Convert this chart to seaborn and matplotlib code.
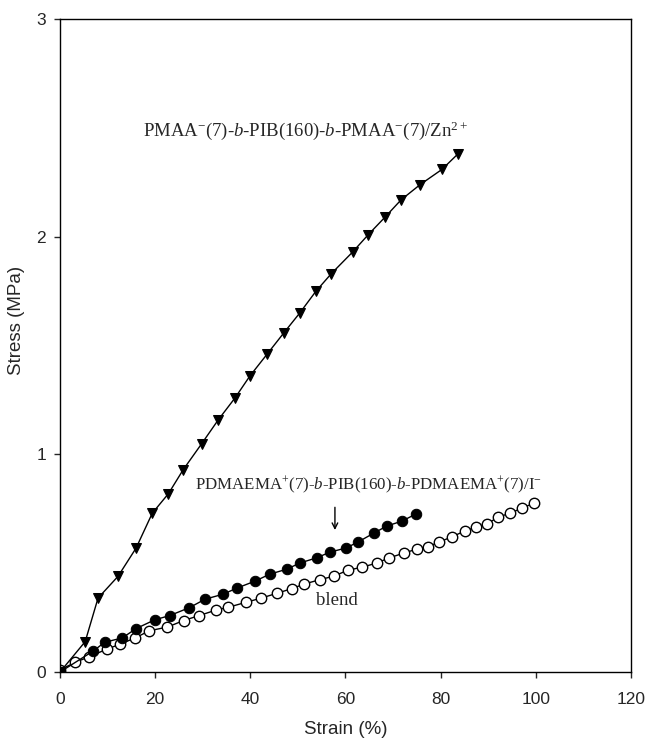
import matplotlib
matplotlib.use("Agg")
import matplotlib.pyplot as plt
import seaborn as sns
import pandas as pd

# Stress-strain data (strain in %, stress in MPa)
zn_strain = [0, 5.3, 8.0, 12.2, 16.0, 19.4, 22.8, 25.9, 29.8, 33.3, 36.8, 39.9,
             43.5, 47.1, 50.4, 53.8, 57.0, 61.5, 64.8, 68.3, 71.7, 75.7, 80.3, 83.6]
zn_stress = [0, 0.14, 0.34, 0.44, 0.57, 0.73, 0.82, 0.93, 1.05, 1.16, 1.26, 1.36,
             1.46, 1.56, 1.65, 1.75, 1.83, 1.93, 2.01, 2.09, 2.17, 2.24, 2.31, 2.38]

iod_strain = [0, 7.0, 9.4, 13.1, 16.0, 19.9, 23.1, 27.2, 30.5, 34.3, 37.2, 41.0,
              44.1, 47.7, 50.4, 54.1, 56.7, 60.1, 62.6, 66.0, 68.7, 71.9, 74.8]
iod_stress = [0, 0.097, 0.137, 0.157, 0.20, 0.24, 0.26, 0.296, 0.335, 0.358, 0.386, 0.418,
              0.45, 0.473, 0.501, 0.526, 0.551, 0.57, 0.597, 0.639, 0.671, 0.694, 0.726]

blend_strain = [0, 3.2, 6.1, 9.8, 12.6, 15.8, 18.8, 22.6, 26.0, 29.3, 32.8, 35.4,
                39.0, 42.3, 45.6, 48.8, 51.4, 54.7, 57.6, 60.5, 63.5, 66.6, 69.1, 72.3,
                75.0, 77.3, 79.7, 82.4, 85.1, 87.4, 89.7, 92.1, 94.6, 97.1, 99.6]
blend_stress = [0.01, 0.045, 0.07, 0.105, 0.128, 0.157, 0.19, 0.207, 0.237, 0.26, 0.285, 0.298,
                0.32, 0.34, 0.362, 0.384, 0.405, 0.425, 0.441, 0.468, 0.482, 0.501, 0.524, 0.547,
                0.565, 0.576, 0.597, 0.622, 0.648, 0.666, 0.68, 0.712, 0.73, 0.753, 0.776]

x_ticks = [0, 20, 40, 60, 80, 100, 120]
y_ticks = [0, 1, 2, 3]

sns.set_style("ticks")
plt.rcParams["font.family"] = ["Liberation Sans", "DejaVu Sans"]
plt.rcParams["mathtext.fontset"] = "custom"
plt.rcParams["mathtext.rm"] = "Liberation Serif"
plt.rcParams["mathtext.it"] = "Liberation Serif:italic"

fig = plt.figure(figsize=(6.45, 7.41), dpi=100)
ax = fig.add_axes([0.093, 0.093, 0.885, 0.881])

blend = pd.DataFrame({"strain": blend_strain, "stress": blend_stress})
iod = pd.DataFrame({"strain": iod_strain, "stress": iod_stress})
zn = pd.DataFrame({"strain": zn_strain, "stress": zn_stress})

sns.lineplot(data=blend, x="strain", y="stress", ax=ax, color="black", lw=1.0,
             marker="o", markersize=7.5, markerfacecolor="white",
             markeredgecolor="black", markeredgewidth=1.0, sort=False)
sns.lineplot(data=iod, x="strain", y="stress", ax=ax, color="black", lw=1.0,
             marker="o", markersize=7.5, markerfacecolor="black",
             markeredgecolor="black", sort=False)
sns.lineplot(data=zn, x="strain", y="stress", ax=ax, color="black", lw=1.0,
             marker="v", markersize=7.5, markerfacecolor="black",
             markeredgecolor="black", sort=False)

ax.set_xlim(0, 120)
ax.set_ylim(0, 3)
ax.set_xticks(x_ticks)
ax.set_yticks(y_ticks)
ax.tick_params(axis="x", direction="out", length=4, width=1, labelsize=12.5, pad=10)
ax.tick_params(axis="y", direction="out", length=4, width=1, labelsize=12.5, pad=6)
for s in ax.spines.values():
    s.set_linewidth(1.0)
    s.set_color("black")

ax.set_xlabel("Strain (%)", fontsize=13.5)
ax.set_ylabel("Stress (MPa)", fontsize=13.5)
ax.xaxis.set_label_coords(0.5, -0.0755)
ax.yaxis.set_label_coords(-0.062, 0.539)

serif = "Liberation Serif"
ax.text(17.4, 2.49, r"PMAA$^{-}$(7)-$\it{b}$-PIB(160)-$\it{b}$-PMAA$^{-}$(7)/Zn$^{2+}$",
        fontsize=13.5, family=serif, va="center", ha="left")
ax.text(28.4, 0.86, r"PDMAEMA$^{+}$(7)-$\it{b}$-PIB(160)-$\it{b}$-PDMAEMA$^{+}$(7)/I$^{-}$",
        fontsize=12.2, family=serif, va="center", ha="left")
ax.text(53.8, 0.33, "blend", fontsize=13.5, family=serif, va="center", ha="left")

ax.annotate("", xy=(57.8, 0.64), xytext=(57.8, 0.77),
            arrowprops=dict(arrowstyle="->", color="black", lw=1.0))

fig.savefig("out.png", dpi=100)
